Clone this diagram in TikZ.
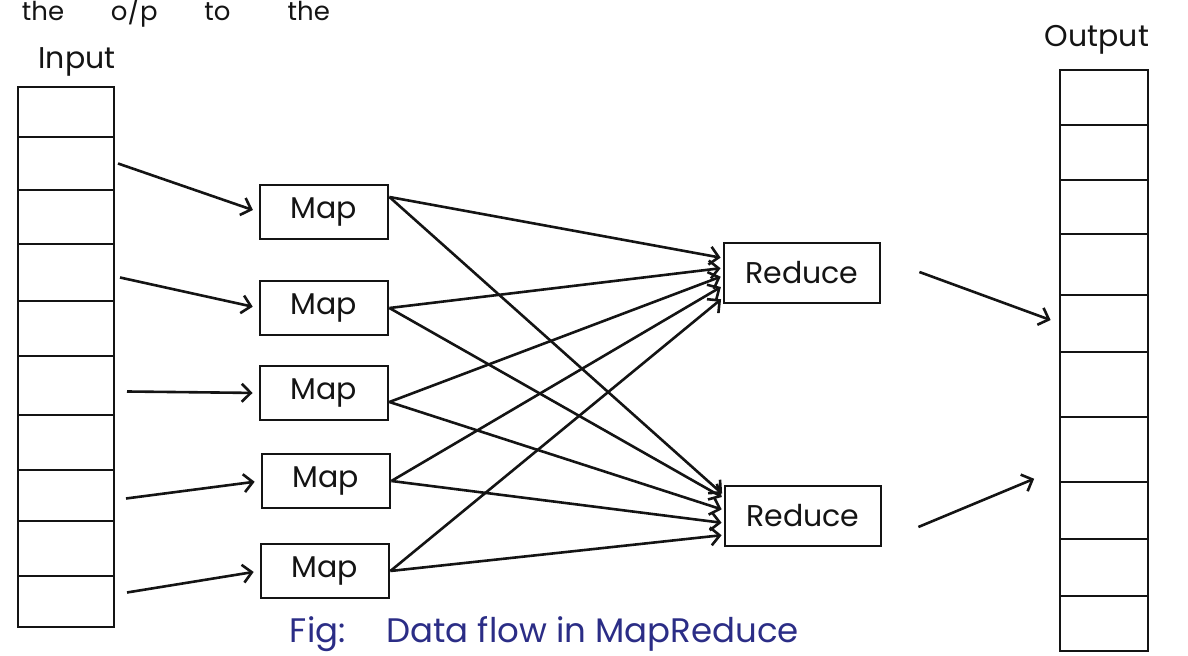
\documentclass[tikz,border=0pt]{standalone}
\usepackage{fontspec}
\setmainfont{Poppins}
\usepackage{tikz}
\usetikzlibrary{arrows.meta,positioning}
\definecolor{ink}{HTML}{141414}
\definecolor{pen}{HTML}{2B2D86}

\begin{document}
\begin{tikzpicture}[x=0.5pt,y=-0.5pt,line width=1.3pt,color=ink,
    font=\fontsize{15}{18}\selectfont,
    cell/.style={draw,inner sep=0pt,outer sep=0pt,line width=1.4pt},
    mapbox/.style={draw,line width=1.4pt,minimum width=64pt,minimum height=27pt,inner sep=0pt},
    redbox/.style={draw,line width=1.4pt,minimum width=78pt,minimum height=30pt,inner sep=0pt},
    flow/.style={-{Straight Barb[length=4.5pt,width=9pt]},shorten >=1pt}]
  \useasboundingbox (0,0) rectangle (1188,656);

  \node[anchor=base west,font=\fontsize{13}{15}\selectfont] (note) at (14,21) {the\hspace{1.8em}o/p\hspace{1.8em}to\hspace{2.2em}the};
  \node (inlabel) at (77,62) {Input};
  \node (outlabel) at (1097,40) {Output};

  \foreach \t/\b [count=\i] in {87/137,137/190,190/244,244/301,301/356,356/415,415/470,470/521,521/576,576/627}{
    \pgfmathsetmacro\h{(\b-\t)/2}
    \pgfmathsetmacro\c{(\t+\b)/2}
    \node[cell,minimum width=48pt,minimum height=\h pt] (in\i) at (66,\c) {};
  }
  \foreach \t/\b [count=\i] in {70/125,125/180,180/234,234/295,295/352,352/417,417/482,482/539,539/596,596/651}{
    \pgfmathsetmacro\h{(\b-\t)/2}
    \pgfmathsetmacro\c{(\t+\b)/2}
    \node[cell,minimum width=44pt,minimum height=\h pt] (out\i) at (1104,\c) {};
  }

  \node[mapbox] (m1) at (324,212) {Map};
  \node[mapbox] (m2) at (324,308) {Map};
  \node[mapbox] (m3) at (324,393) {Map};
  \node[mapbox] (m4) at (326,481) {Map};
  \node[mapbox] (m5) at (325,571) {Map};

  \node[redbox] (r1) at (802,273) {Reduce};
  \node[redbox] (r2) at (803,516) {Reduce};

  \foreach \c/\m/\dx/\dy in {2/1/4/0,4/2/6/5,6/3/13/6,8/4/12/3,10/5/13/-9}
    \draw[flow,shorten >=3pt] ([shift={(\dx,\dy)}]in\c.east) -- (m\m.west);

  \foreach \m/\dy/\ya/\yb in {1/-15/-15/-21,2/0/-5/-18,3/9/3/-6,4/0/13/7,5/0/25/19}{
    \draw[flow] ([shift={(0,\dy)}]m\m.east) -- ([shift={(0,\ya)}]r1.west);
    \draw[flow] ([shift={(0,\dy)}]m\m.east) -- ([shift={(0,\yb)}]r2.west);
  }

  \draw[flow,shorten >=5pt] ([shift={(38,-1)}]r1.east) -- (out5.west);
  \draw[flow] ([shift={(36,11)}]r2.east) -- ([shift={(-24,-4)}]out7.south west);

  \node[anchor=base west,pen,font=\fontsize{17}{20}\selectfont] (caption) at (282,643) {Fig:\hspace{1.2em}Data flow in MapReduce};
\end{tikzpicture}
\end{document}
